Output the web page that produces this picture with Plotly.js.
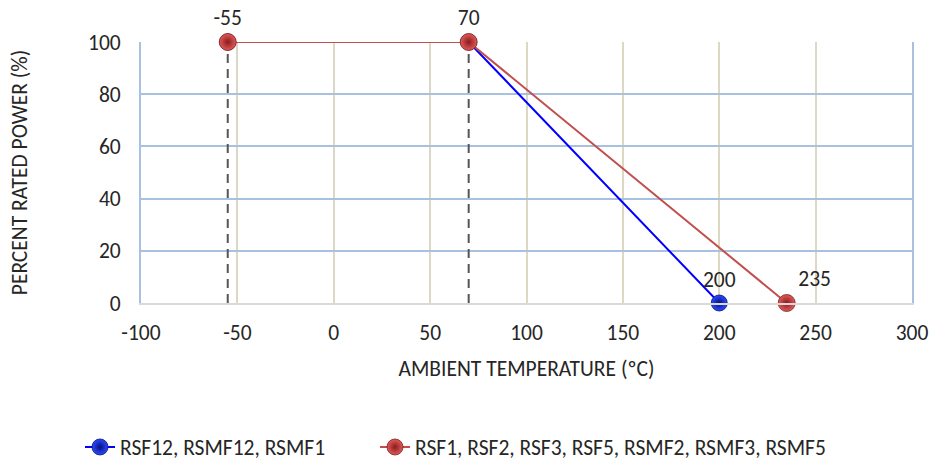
<!DOCTYPE html>
<html>
<head>
<meta charset="utf-8">
<script src="https://cdn.plot.ly/plotly-3.0.1.min.js"></script>
<style>html,body{margin:0;padding:0;background:#fff}#chart{width:930px;height:461px}</style>
</head>
<body>
<div id="chart"></div>
<script>
// Data
const seriesA_name = "RSF12, RSMF12, RSMF1";
const seriesA_x = [-55, 70, 200];
const seriesA_y = [100, 100, 0];
const seriesA_labels = ["", "", "200"];

const seriesB_name = "RSF1, RSF2, RSF3, RSF5, RSMF2, RSMF3, RSMF5";
const seriesB_x = [-55, 70, 235];
const seriesB_y = [100, 100, 0];
const seriesB_labels = ["-55", "70", "235"];

const kneeX = [-55, 70];
const kneeYRange = [0, 100];

const xTicks = [-100, -50, 0, 50, 100, 150, 200, 250, 300];
const yTicks = [0, 20, 40, 60, 80, 100];

const FONT = "Carlito, 'Liberation Sans', Arial, sans-serif";
const FS = 21.5;
const TXT = '#262626';

const traces = [];
kneeX.forEach(function (kx) {
  traces.push({
    x: [kx, kx], y: kneeYRange, mode: 'lines', showlegend: false, hoverinfo: 'skip',
    line: {color: '#555555', width: 2, dash: '9px,6px'}
  });
});
traces.push({
  name: seriesA_name, x: seriesA_x, y: seriesA_y, mode: 'lines+markers+text',
  text: seriesA_labels, textposition: 'top center',
  textfont: {family: FONT, size: FS, color: TXT},
  line: {color: '#0000ff', width: 2},
  marker: {size: 16, color: '#2a4bff', gradient: {type: 'radial', color: '#0a0f80'}, line: {color: '#0a1070', width: 0.8}},
  cliponaxis: false, legend: 'legend'
});
traces.push({
  name: seriesB_name, x: seriesB_x, y: seriesB_y, mode: 'lines+markers+text',
  text: seriesB_labels, textposition: ['top center', 'top center', 'top right'],
  textfont: {family: FONT, size: FS, color: TXT},
  line: {color: '#c0504d', width: 2},
  marker: {size: 17, color: '#e25a5a', gradient: {type: 'radial', color: '#8a1c1c'}, line: {color: '#7a1f1f', width: 0.8}},
  cliponaxis: false, legend: 'legend2'
});

const legendBase = {
  orientation: 'h', xref: 'container', yref: 'container',
  xanchor: 'left', y: 1 - 447 / 461, yanchor: 'middle',
  font: {family: FONT, size: FS, color: TXT},
  itemwidth: 30, bgcolor: 'rgba(0,0,0,0)'
};

const layout = {
  width: 930, height: 461,
  margin: {l: 141, r: 18, t: 42, b: 158},
  paper_bgcolor: '#ffffff', plot_bgcolor: '#ffffff',
  font: {family: FONT, size: FS, color: TXT},
  showlegend: true,
  xaxis: {
    range: [-100, 300], tickvals: xTicks, ticktext: xTicks.map(String),
    showgrid: true, gridcolor: '#ddd8c3', gridwidth: 2,
    zeroline: false, showline: true, linecolor: '#d9d9d9', linewidth: 2,
    ticks: '', ticklabelstandoff: 9,
    tickfont: {family: FONT, size: FS, color: TXT},
    title: {text: 'AMBIENT TEMPERATURE (ºC)', font: {family: FONT, size: FS, color: TXT}, standoff: 16}
  },
  yaxis: {
    range: [0, 100], tickvals: yTicks, ticktext: yTicks.map(String),
    showgrid: true, gridcolor: '#a7c1df', gridwidth: 2,
    zeroline: false, showline: true, linecolor: '#a7c1df', linewidth: 2, mirror: true,
    ticks: '', ticklabelstandoff: 14,
    tickfont: {family: FONT, size: FS, color: TXT},
    title: {text: 'PERCENT RATED POWER (%)', font: {family: FONT, size: FS, color: TXT}, standoff: 54}
  },
  legend: Object.assign({}, legendBase, {x: 80 / 930}),
  legend2: Object.assign({}, legendBase, {x: 375 / 930})
};

Plotly.newPlot('chart', traces, layout, {displayModeBar: false, staticPlot: true});
</script>
</body>
</html>
